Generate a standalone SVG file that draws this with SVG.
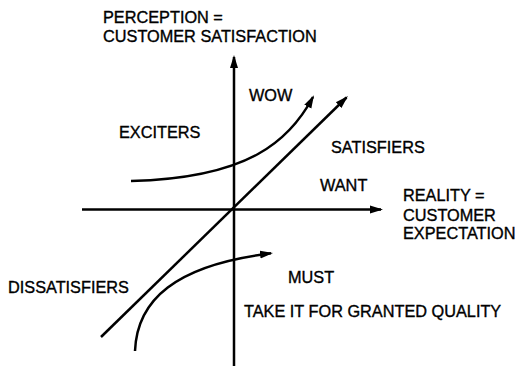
<svg xmlns="http://www.w3.org/2000/svg" width="516" height="368" viewBox="0 0 516 368">
<style>
text{font-family:"Liberation Sans",Arial,sans-serif;font-size:16.3px;fill:#000;stroke:#000;stroke-width:0.35}
.ln{fill:none;stroke:#000;stroke-width:2.5}
</style>
<defs>
<marker id="ah" markerUnits="userSpaceOnUse" markerWidth="14" markerHeight="10" viewBox="0 0 14 10" refX="11" refY="5" orient="auto">
<path d="M0,1 L13,5 L0,9 z" fill="#000"/>
</marker>
</defs>
<rect width="516" height="368" fill="#fff"/>
<g id="connectors">
<path class="ln" d="M234,366 L234,57" marker-end="url(#ah)"/>
<path class="ln" d="M82,209.5 L381,209.5" marker-end="url(#ah)"/>
<path class="ln" d="M101,337 L346.5,97.5" marker-end="url(#ah)"/>
<path class="ln" d="M131,181 C250,178 290,140 313,97" marker-end="url(#ah)"/>
<path class="ln" d="M135,351 C137,300 175,265 271,253.3" marker-end="url(#ah)"/>
</g>
<g id="y-axis-label"><text x="103" y="23">PERCEPTION =</text><text x="103" y="42">CUSTOMER SATISFACTION</text></g>
<g id="x-axis-label"><text x="403" y="201">REALITY =</text><text x="403" y="221">CUSTOMER</text><text x="403" y="239">EXPECTATION</text></g>
<g id="wow"><text x="249" y="101">WOW</text></g>
<g id="exciters"><text x="119" y="138">EXCITERS</text></g>
<g id="satisfiers"><text x="331" y="153">SATISFIERS</text></g>
<g id="want"><text x="320" y="191">WANT</text></g>
<g id="dissatisfiers"><text x="8" y="293">DISSATISFIERS</text></g>
<g id="must"><text x="288" y="283">MUST</text></g>
<g id="granted"><text x="244" y="317">TAKE IT FOR GRANTED QUALITY</text></g>
</svg>
